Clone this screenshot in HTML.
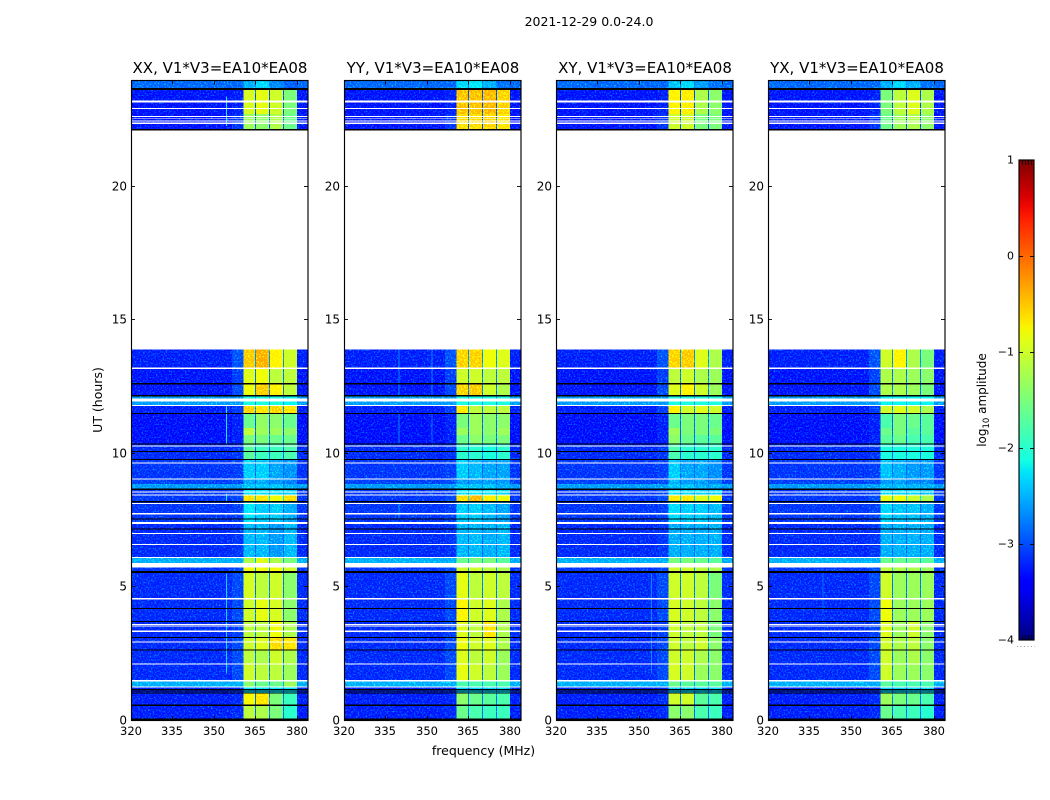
<!DOCTYPE html>
<html lang="en">
<head>
<meta charset="utf-8">
<title>2021-12-29 0.0-24.0</title>
<style>
html,body{margin:0;padding:0;background:#fff;}
body{width:1050px;height:800px;overflow:hidden;}
svg{display:block;}
text{font-family:"DejaVu Sans","Liberation Sans",sans-serif;fill:#000;}
</style>
</head>
<body>
<svg id="chart" xmlns="http://www.w3.org/2000/svg" width="1050" height="800" viewBox="0 0 1050 800">
  <defs>
    <filter id="speckle" x="0" y="0" width="1" height="1" color-interpolation-filters="sRGB">
      <feTurbulence type="fractalNoise" baseFrequency="0.62" numOctaves="2" seed="7" result="n"/>
      <feColorMatrix in="n" type="matrix" values="0 0 0 0 0  1.5 0 0 0 -0.72  0 0 0 0 0  0 0 0 0 1" result="g"/>
      <feComposite in="SourceGraphic" in2="g" operator="arithmetic" k1="0" k2="1" k3="1" k4="0" result="sum"/>
      <feComposite in="sum" in2="SourceGraphic" operator="in"/>
    </filter>
    <linearGradient id="jet-gradient" x1="0" y1="1" x2="0" y2="0"></linearGradient>
  </defs>
  <text x="589" y="26" text-anchor="middle" font-size="12.5">2021-12-29 0.0-24.0</text>
  <text x="483.5" y="755" text-anchor="middle" font-size="12.5">frequency (MHz)</text>
  <text x="102" y="400" text-anchor="middle" font-size="12.5" transform="rotate(-90 102 400)">UT (hours)</text>
  <text x="986" y="400" text-anchor="middle" font-size="12" transform="rotate(-90 986 400)">log<tspan font-size="8.5" dy="3">10</tspan><tspan dy="-3"> amplitude</tspan></text>
</svg>
<script>
// ---- data ----
const panelTitles = ["XX, V1*V3=EA10*EA08", "YY, V1*V3=EA10*EA08", "XY, V1*V3=EA10*EA08", "YX, V1*V3=EA10*EA08"];
const xTicks = [320, 335, 350, 365, 380];
const yTicks = [0, 5, 10, 15, 20];
const colorTicks = [1, 0, -1, -2, -3, -4];

// UT row edges in hours (top to bottom)
const rowEdges = [24,23.7,22.75,22.13,13.9,13.2,12.62,12.17,11.8,11.5,10.95,10.7,10.35,9.77,9.05,8.85,8.66,8.44,8.19,7.4,6.1,5.73,5.58,4.55,3.7,3.1,2.62,2.1,1.5,1.24,1.0,0.56,0];

// log10 amplitude per row: off-band background, the shoulder under the band, and the gaps between sub-bands
const bgLevel = [-2.95,-3.35,-3.35,null,-3.3,-3.35,-3.35,-2.7,-3.3,-3.4,-3.4,-3.4,-3.25,-3.2,-3.15,-2.7,-3.2,-3.2,-3.2,-3.25,-2.6,-3.2,-3.25,-3.25,-3.25,-3.25,-3.25,-3.25,-2.6,-3.3,-3.3,-3.3];
const shoulderLevel = [-2.95,-3.3,-3.2,null,-3.05,-3.15,-3.1,-2.7,-3.15,-3.3,-3.3,-3.3,-3.2,-3.15,-3.1,-2.7,-3.15,-3.1,-3.15,-3.2,-2.6,-3.1,-3.1,-3.1,-3.15,-3.1,-3.1,-3.1,-2.6,-3.25,-3.25,-3.25];
const gapLevel = [-2.8,-3.05,-3.05,null,-2.75,-2.9,-2.9,-2.65,-2.75,-2.95,-2.95,-2.95,-2.95,-2.95,-2.95,-2.75,-2.85,-2.35,-2.95,-2.95,-2.55,-2.65,-2.9,-2.9,-2.9,-2.85,-2.9,-2.9,-2.65,-3.05,-2.9,-2.95];

// off-band edges and the four sub-band edges (MHz)
const bgRange = [320, 356.5];
const shoulderRange = [356.5, 360.7];
const tailRange = [380, 384];
const subBandRanges = [[360.7,364.8],[365.2,369.9],[370.3,374.9],[375.3,380]];
const gapRanges = [[364.8,365.2],[369.9,370.3],[374.9,375.3]];

// sub-band log10 amplitude, one row of four per UT row
const xxBands = [[-2.6,-2.4,-2.8,-3.0],[-0.95,-0.85,-1.0,-1.5],[-1.3,-1.4,-1.2,-1.6],null,
[-0.45,-0.3,-0.7,-1.0],[-0.9,-0.8,-1.1,-1.1],[-0.8,-0.45,-0.7,-1.1],[-2.1,-2.1,-2.1,-2.2],[-0.5,-0.6,-0.5,-0.6],
[-1.6,-1.35,-1.4,-1.6],[-1.1,-1.3,-1.3,-1.4],[-1.5,-1.5,-1.6,-1.6],[-1.7,-1.9,-1.9,-1.8],[-2.45,-2.45,-2.65,-2.75],
[-2.65,-2.65,-2.75,-2.85],[-2.5,-2.5,-2.5,-2.6],[-2.3,-2.3,-2.4,-2.4],[-0.55,-0.6,-0.8,-0.55],[-2.3,-2.45,-2.45,-2.6],
[-2.55,-2.55,-2.7,-2.55],[-1.2,-0.9,-1.2,-1.5],[-0.8,-0.8,-0.8,-1.0],[-0.95,-1.1,-1.0,-1.4],[-1.0,-0.85,-0.95,-1.4],
[-1.1,-1.1,-0.8,-1.2],[-1.0,-0.9,-0.55,-0.6],[-1.1,-1.2,-1.0,-1.2],[-1.0,-1.1,-1.1,-1.3],[-1.4,-1.6,-1.6,-1.3],
[-2.3,-2.3,-2.3,-2.3],[-0.75,-0.6,-1.5,-1.9],[-1.1,-1.2,-1.5,-2.0]];
const yyBands = [[-2.4,-2.3,-2.6,-2.9],[-0.4,-0.4,-0.35,-0.5],[-0.55,-0.55,-0.5,-0.6],null,
[-0.5,-0.5,-0.8,-0.9],[-1.0,-1.0,-1.1,-1.1],[-0.5,-0.45,-1.0,-1.2],[-2.1,-2.1,-2.1,-2.1],[-0.65,-1.1,-1.1,-1.1],
[-1.5,-1.3,-1.4,-1.4],[-1.3,-1.3,-1.4,-1.3],[-1.6,-1.4,-1.5,-1.5],[-2.0,-2.0,-2.1,-2.0],[-2.45,-2.55,-2.65,-2.65],
[-2.7,-2.7,-2.7,-2.7],[-2.5,-2.5,-2.5,-2.6],[-2.3,-2.3,-2.3,-2.4],[-0.55,-0.35,-0.65,-0.8],[-2.45,-2.45,-2.55,-2.65],
[-2.55,-2.55,-2.6,-2.55],[-1.6,-1.5,-1.5,-1.7],[-1.0,-1.0,-1.1,-1.2],[-0.85,-1.1,-1.0,-1.1],[-0.7,-1.0,-0.9,-1.2],
[-0.9,-1.1,-0.6,-1.2],[-0.8,-1.0,-0.9,-1.2],[-0.9,-1.1,-1.0,-1.3],[-0.85,-1.0,-1.1,-1.3],[-1.8,-1.8,-1.8,-1.8],
[-2.4,-2.4,-2.4,-2.4],[-1.4,-1.6,-1.7,-1.8],[-1.6,-1.8,-1.9,-1.9]];
const xyBands = [[-2.5,-2.4,-2.7,-2.9],[-0.7,-0.65,-1.2,-1.4],[-1.0,-1.0,-1.5,-1.5],null,
[-0.5,-0.45,-0.9,-1.2],[-1.1,-1.0,-1.2,-1.3],[-0.9,-0.7,-1.0,-1.3],[-2.1,-2.1,-2.1,-2.1],[-0.7,-1.0,-0.9,-1.0],
[-1.6,-1.5,-1.5,-1.6],[-1.3,-1.5,-1.5,-1.5],[-1.4,-1.6,-1.7,-1.7],[-1.8,-2.0,-2.0,-2.0],[-2.45,-2.65,-2.65,-2.75],
[-2.6,-2.7,-2.7,-2.8],[-2.5,-2.5,-2.6,-2.6],[-2.3,-2.4,-2.4,-2.4],[-0.65,-0.6,-0.9,-0.8],[-2.35,-2.45,-2.45,-2.55],
[-2.6,-2.6,-2.6,-2.6],[-1.5,-1.5,-1.6,-1.7],[-1.0,-1.0,-1.1,-1.2],[-1.0,-1.0,-1.1,-1.5],[-0.95,-1.0,-1.1,-1.4],
[-1.0,-1.1,-1.1,-1.5],[-1.0,-1.1,-1.0,-1.4],[-1.0,-1.0,-1.2,-1.4],[-0.95,-1.0,-1.3,-1.4],[-1.6,-1.7,-1.7,-1.7],
[-2.4,-2.4,-2.4,-2.4],[-1.0,-1.0,-1.7,-1.8],[-1.4,-1.4,-1.8,-1.9]];
const yxBands = [[-2.6,-2.4,-2.6,-2.9],[-1.5,-1.1,-0.9,-1.2],[-1.6,-1.3,-1.2,-1.4],null,
[-1.0,-0.7,-1.2,-1.5],[-1.2,-1.2,-1.3,-1.4],[-1.2,-1.2,-1.3,-1.5],[-2.2,-2.2,-2.2,-2.2],[-1.0,-0.9,-1.0,-1.2],
[-1.8,-1.5,-1.6,-1.7],[-1.6,-1.5,-1.7,-1.7],[-1.7,-1.6,-1.8,-1.8],[-2.1,-2.1,-2.1,-2.1],[-2.5,-2.6,-2.7,-2.7],
[-2.7,-2.7,-2.8,-2.8],[-2.55,-2.55,-2.55,-2.6],[-2.4,-2.4,-2.4,-2.5],[-0.85,-0.8,-1.0,-1.2],[-2.4,-2.5,-2.5,-2.6],
[-2.6,-2.6,-2.6,-2.6],[-1.6,-1.6,-1.6,-1.7],[-1.1,-1.2,-1.2,-1.3],[-1.0,-1.3,-1.3,-1.3],[-0.8,-1.3,-1.3,-1.3],
[-0.9,-1.3,-1.0,-1.4],[-1.0,-1.2,-1.1,-1.4],[-1.0,-1.3,-1.2,-1.4],[-1.0,-1.3,-1.3,-1.4],[-1.7,-1.8,-1.8,-1.8],
[-2.4,-2.4,-2.4,-2.4],[-1.3,-1.5,-1.6,-1.8],[-1.6,-1.8,-1.9,-2.0]];
const panelBands = [xxBands, yyBands, xyBands, yxBands];

// narrow interference lines: MHz, UT start, UT end, log10 amplitude
const xxLines = [[354.5,10.35,11.8,-2.2],[354.5,8.2,8.5,-2.2],[354.5,1.75,5.5,-2.3],[354.5,22.3,23.4,-2.2]];
const yyLines = [[339.9,12.2,13.9,-2.7],[339.9,10.4,11.5,-2.7],[351.8,12.2,13.9,-2.7],[351.8,10.4,11.5,-2.8],[339.9,7.6,8.2,-2.6]];
const xyLines = [[354.5,1.75,5.5,-2.7]];
const yxLines = [[339.9,4.0,5.5,-2.8]];
const panelLines = [xxLines, yyLines, xyLines, yxLines];

// flagged time ranges (hours): no data = white, zero data = black
const whiteBands = [[23.25,23.17],[22.97,22.93],[22.66,22.63],[22.58,22.55],[22.5,22.47],[22.42,22.37],[22.13,13.9],[13.23,13.17],[12.07,11.96],[11.83,11.78],[10.31,10.27],[9.67,9.63],[9.07,9.03],[8.58,8.54],[8.46,8.42],[8.14,8.1],[7.76,7.72],[7.43,7.35],[7.02,6.98],[6.6,6.56],[6.12,6.08],[5.9,5.73],[4.57,4.53],[3.6,3.56],[3.54,3.5],[3.35,3.31],[2.94,2.9],[2.12,2.08],[1.5,1.44],[1.26,1.22]];
const blackBands = [[23.72,23.65],[22.18,22.12],[12.64,12.6],[12.2,12.14],[11.52,11.48],[10.37,10.33],[10.1,10.06],[9.79,9.75],[8.68,8.64],[8.21,8.17],[7.57,7.53],[7.18,7.14],[5.6,5.58],[5.56,5.53],[4.2,4.16],[3.72,3.68],[3.12,3.08],[2.64,2.6],[1.17,1.15],[1.11,1.09],[1.03,1.01],[0.58,0.52],[0.06,0]];

// ---- axes ----
const panelLefts = [131, 344, 556, 768];
const panelWidth = 177;
const plotTop = 80.5, plotBottom = 720;
const freqMin = 320, freqMax = 384, utMin = 0, utMax = 24;
const cbLeft = 1019, cbWidth = 15, cbTop = 160, cbBottom = 640;
const levelMin = -4, levelMax = 1;

function xScale(panelIndex, freq) {
  return panelLefts[panelIndex] + (freq - freqMin) / (freqMax - freqMin) * panelWidth;
}
function yScale(ut) {
  return plotBottom - (ut - utMin) / (utMax - utMin) * (plotBottom - plotTop);
}
function cbScale(level) {
  return cbBottom - (level - levelMin) / (levelMax - levelMin) * (cbBottom - cbTop);
}
function lerpStops(stops, t) {
  for (let i = 1; i < stops.length; i++) {
    if (t <= stops[i][0]) {
      const a = stops[i - 1], b = stops[i];
      return a[1] + (b[1] - a[1]) * (t - a[0]) / (b[0] - a[0]);
    }
  }
  return stops[stops.length - 1][1];
}
const jetR = [[0,0],[0.35,0],[0.66,1],[0.89,1],[1,0.5]];
const jetG = [[0,0],[0.125,0],[0.375,1],[0.64,1],[0.91,0],[1,0]];
const jetB = [[0,0.5],[0.11,1],[0.34,1],[0.65,0],[1,0]];
function jetColor(level) {
  const t = Math.max(0, Math.min(1, (level - levelMin) / (levelMax - levelMin)));
  return 'rgb(' + Math.round(255 * lerpStops(jetR, t)) + ',' + Math.round(255 * lerpStops(jetG, t)) + ',' + Math.round(255 * lerpStops(jetB, t)) + ')';
}

const NS = 'http://www.w3.org/2000/svg';
const svg = document.getElementById('chart');
function make(tag, attrs, parent) {
  const el = document.createElementNS(NS, tag);
  for (const k in attrs) el.setAttribute(k, attrs[k]);
  parent.appendChild(el);
  return el;
}
function cell(parent, panelIndex, f0, f1, ut0, ut1, level, name) {
  const x0 = xScale(panelIndex, f0), x1 = xScale(panelIndex, f1);
  const y0 = yScale(ut0), y1 = yScale(ut1);
  const el = make('rect', {x: x0, y: y0, width: x1 - x0, height: y1 - y0, fill: jetColor(level), 'shape-rendering': 'crispEdges'}, parent);
  
  
  return el;
}

panelTitles.forEach(function (title, p) {
  const left = panelLefts[p];
  const panel = make('g', {}, svg);
  
  

  const cells = make('g', {filter: 'url(#speckle)'}, panel);
  
  

  for (let r = 0; r < rowEdges.length - 1; r++) {
    const bands = panelBands[p][r];
    if (bgLevel[r] === null || !bands) continue;
    const top = rowEdges[r], bottom = rowEdges[r + 1];
    cell(cells, p, bgRange[0], bgRange[1], top, bottom, bgLevel[r], 'background-cell');
    cell(cells, p, shoulderRange[0], shoulderRange[1], top, bottom, shoulderLevel[r], 'shoulder-cell');
    cell(cells, p, tailRange[0], tailRange[1], top, bottom, bgLevel[r], 'background-cell');
    subBandRanges.forEach(function (range, s) {
      cell(cells, p, range[0], range[1], top, bottom, bands[s], 'sub-band-cell');
    });
    gapRanges.forEach(function (range) {
      cell(cells, p, range[0], range[1], top, bottom, gapLevel[r], 'sub-band-gap-cell');
    });
  }

  panelLines[p].forEach(function (line) {
    cell(panel, p, line[0] - 0.2, line[0] + 0.2, line[2], line[1], line[3], 'interference-line');
  });
  whiteBands.forEach(function (band) {
    const el = make('rect', {x: left, y: yScale(band[0]), width: panelWidth, height: yScale(band[1]) - yScale(band[0]), fill: '#fff', 'shape-rendering': 'crispEdges'}, panel);
    
    
  });
  blackBands.forEach(function (band) {
    const el = make('rect', {x: left, y: yScale(band[0]), width: panelWidth, height: Math.max(1, yScale(band[1]) - yScale(band[0])), fill: '#000', 'shape-rendering': 'crispEdges'}, panel);
    
    
  });

  const frame = make('rect', {x: left + 0.5, y: plotTop, width: panelWidth - 0.5, height: plotBottom - plotTop + 0.5, fill: 'none', stroke: '#000', 'stroke-width': 1.15}, panel);
  
  

  const titleEl = make('text', {x: left + panelWidth / 2 + 0.5, y: 73, 'text-anchor': 'middle', 'font-size': 15}, panel);
  titleEl.textContent = title;
  
  

  xTicks.forEach(function (tick) {
    const x = Math.round(xScale(p, tick)) + 0.5;
    const t1 = make('line', {x1: x, x2: x, y1: plotBottom, y2: plotBottom - 4, stroke: '#000', 'stroke-width': 0.9}, panel);
    
    
    const t2 = make('line', {x1: x, x2: x, y1: plotTop, y2: plotTop + 4, stroke: '#000', 'stroke-width': 0.9}, panel);
    
    
    const label = make('text', {x: x - 0.5, y: 735, 'text-anchor': 'middle', 'font-size': 11.5}, panel);
    label.textContent = String(tick);
    
    
  });
  yTicks.forEach(function (tick) {
    const y = Math.round(yScale(tick)) + 0.5;
    if (tick !== 0) {
      const t1 = make('line', {x1: left, x2: left + 4, y1: y - 1, y2: y - 1, stroke: '#000', 'stroke-width': 0.9}, panel);
      
      
      const t2 = make('line', {x1: left + panelWidth, x2: left + panelWidth - 4, y1: y - 1, y2: y - 1, stroke: '#000', 'stroke-width': 0.9}, panel);
      
      
    }
    const label = make('text', {x: left - 4, y: (tick === 0 ? y + 4 : y + 3), 'text-anchor': 'end', 'font-size': 12}, panel);
    label.textContent = String(tick);
    
    
  });
});

// ---- colorbar ----
const gradient = document.getElementById('jet-gradient');
for (let i = 0; i <= 40; i++) {
  const level = levelMin + (levelMax - levelMin) * i / 40;
  make('stop', {offset: (i / 40), 'stop-color': jetColor(level)}, gradient);
}
const cb = make('g', {}, svg);


const cbBar = make('rect', {x: cbLeft, y: cbTop, width: cbWidth, height: cbBottom - cbTop, fill: 'url(#jet-gradient)', stroke: '#000', 'stroke-width': 1.15}, cb);


colorTicks.forEach(function (tick) {
  const y = Math.round(cbScale(tick)) + 0.5;
  if (tick !== levelMax && tick !== levelMin) {
    const t1 = make('line', {x1: cbLeft, x2: cbLeft + 4, y1: y, y2: y, stroke: '#000', 'stroke-width': 0.9}, cb);
    
    
    const t2 = make('line', {x1: cbLeft + cbWidth, x2: cbLeft + cbWidth - 4, y1: y, y2: y, stroke: '#000', 'stroke-width': 0.9}, cb);
    
    
  }
  const label = make('text', {x: cbLeft - 5, y: y + 3, 'text-anchor': 'end', 'font-size': 11}, cb);
  label.textContent = String(tick).replace('-', '\u2212');
  
  
});
[3, 6, 9, 12].forEach(function (dx) {
  const t1 = make('line', {x1: cbLeft + dx + 0.5, x2: cbLeft + dx + 0.5, y1: cbTop, y2: cbTop + 5, stroke: '#000', 'stroke-width': 0.8}, cb);
  
  
  const t2 = make('line', {x1: cbLeft + dx + 0.5, x2: cbLeft + dx + 0.5, y1: cbBottom, y2: cbBottom - 5, stroke: '#000', 'stroke-width': 0.8}, cb);
  
  
});
const cbDots = make('line', {x1: 1017, x2: 1035, y1: 646.5, y2: 646.5, stroke: '#999', 'stroke-width': 1, 'stroke-dasharray': '1 2.5'}, cb);


</script>
</body>
</html>
